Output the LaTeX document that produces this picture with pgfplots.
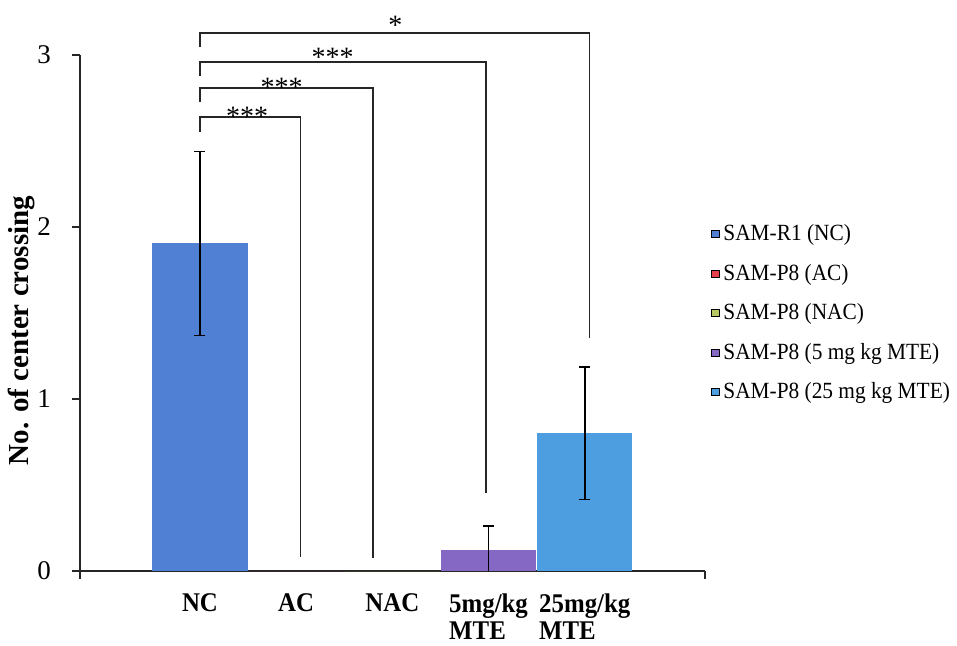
\documentclass[border=0pt]{standalone}
\usepackage{fontspec}
\setmainfont{Liberation Serif}
\newfontfamily\condserif[FakeStretch=0.92]{Liberation Serif}
\usepackage{pgfplots}
\pgfplotsset{compat=1.18}
\definecolor{cNC}{RGB}{80,128,212}
\definecolor{cAC}{RGB}{228,64,76}
\definecolor{cNAC}{RGB}{184,200,96}
\definecolor{cFive}{RGB}{132,104,196}
\definecolor{cTwf}{RGB}{76,158,224}
\pgfplotsset{sqlegend/.style={legend image code/.code={\fill[##1] (0pt,-1.8pt) rectangle (3.6pt,1.8pt);}}}
\begin{document}
\begin{tikzpicture}
\begin{axis}[
  scale only axis, width=312.5pt, height=258pt,
  xmin=-1.247, xmax=5.25, ymin=0, ymax=3,
  clip=false,
  axis lines=left,
  axis line style={-, line width=0.9pt, black!85},
  tick align=outside,
  ytick={0,1,2,3},
  ytick style={line width=0.9pt, black!85},
  major tick length=4pt,
  xtick={0,1,2,3,4},
  xticklabels={NC, AC, NAC, {5mg/kg\\MTE}, {25mg/kg\\MTE}},
  x tick style={draw=none},
  extra x ticks={-1.247,5.25},
  extra x tick labels={},
  extra x tick style={x tick style={draw=black!85, line width=0.9pt}},
  /pgf/number format/assume math mode=true,
  yticklabel style={font=\fontsize{13.5}{16}\selectfont, xshift=-7pt},
  xticklabel style={font=\condserif\bfseries\fontsize{13.5}{13.5}\selectfont, align=left, anchor=north, yshift=-4pt},
  ylabel={No. of center crossing},
  ylabel style={font=\bfseries\fontsize{14.5}{16}\selectfont, at={(axis description cs:-0.093,0.466)}, anchor=center},
  legend style={at={(axis description cs:1.0,0.5)}, anchor=west, draw=none, fill=none,
    font=\condserif\fontsize{11.6}{13}\selectfont, row sep=6.2pt},
  legend cell align=left,
]
\addplot[ybar, bar width=0.99, bar shift=0, fill=cNC, draw=none, forget plot,
  error bars/.cd, y dir=both, y explicit,
  error bar style={black, line width=0.8pt},
  error mark options={rotate=90, mark size=2.75pt, black, line width=0.8pt}]
  coordinates {(0,1.905) +- (0,0.535)};
\addplot[ybar, bar width=0.99, bar shift=0, fill=cAC, draw=none, forget plot]
  coordinates {(1,0)};
\addplot[ybar, bar width=0.99, bar shift=0, fill=cNAC, draw=none, forget plot]
  coordinates {(2,0)};
\addplot[ybar, bar width=0.99, bar shift=0, fill=cFive, draw=none, forget plot,
  error bars/.cd, y dir=plus, y explicit,
  error bar style={black, line width=0.8pt},
  error mark options={rotate=90, mark size=2.75pt, black, line width=0.8pt}]
  coordinates {(3,0.123) += (0,0.14) -= (0,0.123)};
\addplot[black, line width=0.8pt, forget plot] coordinates {(3,0) (3,0.123)};
\addplot[ybar, bar width=0.99, bar shift=0, fill=cTwf, draw=none, forget plot,
  error bars/.cd, y dir=both, y explicit,
  error bar style={black, line width=0.8pt},
  error mark options={rotate=90, mark size=2.75pt, black, line width=0.8pt}]
  coordinates {(4,0.80) +- (0,0.385)};
\addlegendimage{sqlegend, fill=cNC}
\addlegendentry{SAM-R1 (NC)}
\addlegendimage{sqlegend, fill=cAC}
\addlegendentry{SAM-P8 (AC)}
\addlegendimage{sqlegend, fill=cNAC}
\addlegendentry{SAM-P8 (NAC)}
\addlegendimage{sqlegend, fill=cFive}
\addlegendentry{SAM-P8 (5 mg kg MTE)}
\addlegendimage{sqlegend, fill=cTwf}
\addlegendentry{SAM-P8 (25 mg kg MTE)}
% significance brackets
\draw[line width=0.9pt, black!85] (axis cs:0,2.555) -- (axis cs:0,2.64) -- (axis cs:1.045,2.64) -- (axis cs:1.045,0.081);
\draw[line width=0.9pt, black!85] (axis cs:0,2.725) -- (axis cs:0,2.808) -- (axis cs:1.80,2.808) -- (axis cs:1.80,0.076);
\draw[line width=0.9pt, black!85] (axis cs:0,2.88) -- (axis cs:0,2.96) -- (axis cs:2.97,2.96) -- (axis cs:2.97,0.453);
\draw[line width=0.9pt, black!85] (axis cs:0,3.045) -- (axis cs:0,3.128) -- (axis cs:4.05,3.128) -- (axis cs:4.05,1.355);
\node[anchor=base, font=\fontsize{14}{14}\selectfont, inner sep=0pt] at (axis cs:0.49,2.59) {***};
\node[anchor=base, font=\fontsize{14}{14}\selectfont, inner sep=0pt] at (axis cs:0.85,2.76) {***};
\node[anchor=base, font=\fontsize{14}{14}\selectfont, inner sep=0pt] at (axis cs:1.38,2.936) {***};
\node[anchor=base, font=\fontsize{14}{14}\selectfont, inner sep=0pt] at (axis cs:2.03,3.12) {*};
\end{axis}
\pgfresetboundingbox
\path (-40pt,-37pt) rectangle (438.5pt,285.5pt);
\end{tikzpicture}
\end{document}
